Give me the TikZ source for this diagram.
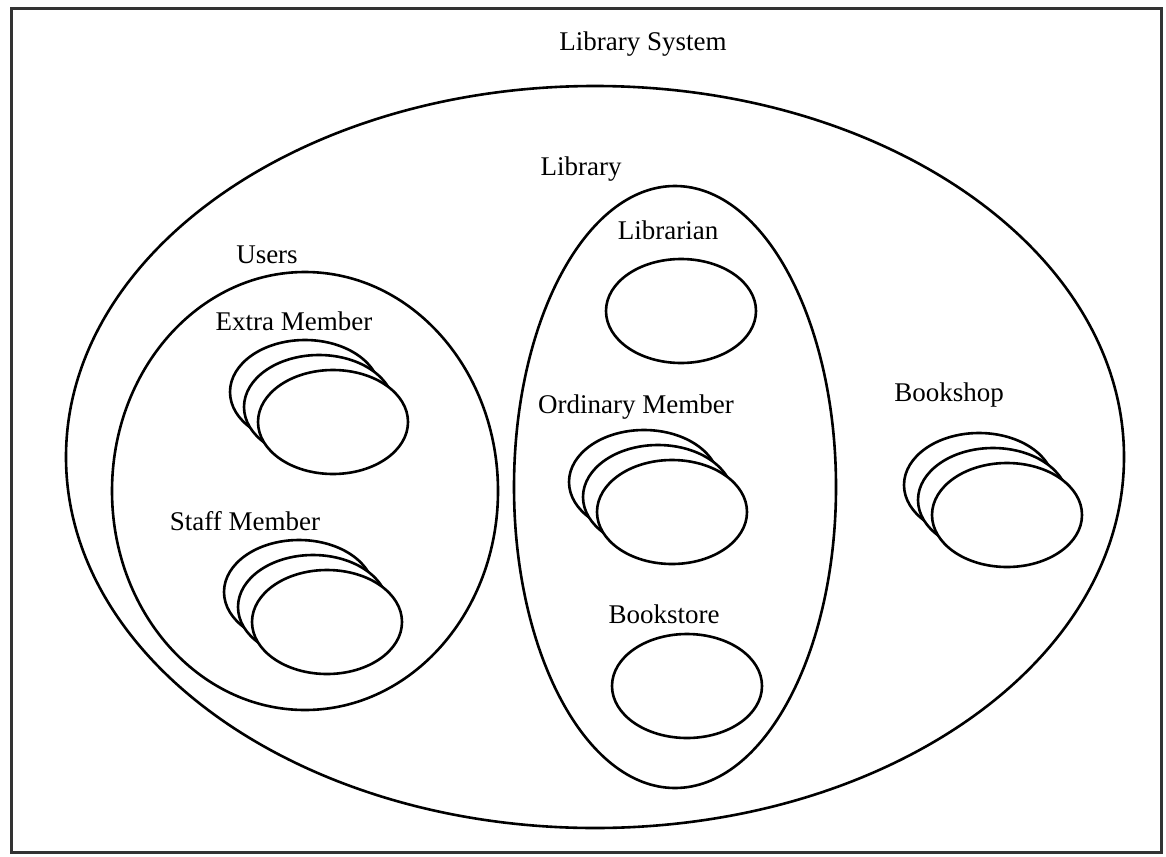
\documentclass[tikz,border=0pt]{standalone}
\usepackage{fontspec}
\setmainfont{Liberation Serif}
\usetikzlibrary{shapes.geometric}
\tikzset{
  oval/.style={ellipse, draw, line width=2.6pt, inner sep=0pt, fill=white},
  obj/.style={oval, minimum width=150pt, minimum height=104pt},
  lbl/.style={inner sep=0pt, font=\fontsize{27}{32}\selectfont},
}
\begin{document}
\begin{tikzpicture}[x=1pt,y=-1pt]
\useasboundingbox (0,0) rectangle (1166,856);
\fill[white] (0,0) rectangle (1166,856);
\draw[line width=3pt, black!80] (11,9) rectangle (1161,852);

% containers
\node[oval, minimum width=1058pt, minimum height=742pt] (sys) at (595,457) {};
\node[oval, minimum width=386pt, minimum height=438pt] (users) at (305,491) {};
\node[oval, minimum width=322pt, minimum height=602pt] (lib) at (675,487) {};

% single objects
\node[obj] (librarian) at (681,311) {};
\node[obj] (bookstore) at (687,686) {};

% stacked objects (multiple instances)
\foreach \nm/\cx/\cy in {extra/333/422, staff/327/622, ordinary/672/512, bookshop/1007/515}{
  \node[obj] (\nm-c) at (\cx-28,\cy-30) {};
  \node[obj] (\nm-b) at (\cx-14,\cy-15) {};
  \node[obj] (\nm-a) at (\cx,\cy) {};
}

% labels
\node[lbl] (t-sys) at (643,44) {Library System};
\node[lbl] (t-lib) at (581,169) {Library};
\node[lbl] (t-users) at (267,255) {Users};
\node[lbl] (t-extra) at (294,321) {Extra Member};
\node[lbl] (t-librarian) at (668,230) {Librarian};
\node[lbl] (t-ordinary) at (636,407) {Ordinary Member};
\node[lbl] (t-bookshop) at (949,395) {Bookshop};
\node[lbl] (t-staff) at (245,521) {Staff Member};
\node[lbl] (t-bookstore) at (664,614) {Bookstore};
\end{tikzpicture}
\end{document}
